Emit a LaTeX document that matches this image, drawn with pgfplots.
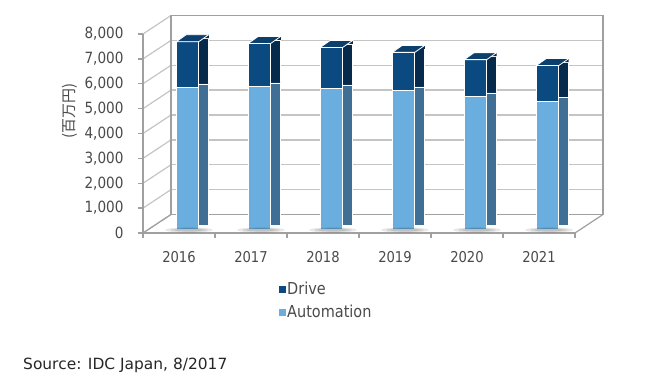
\documentclass[border=0pt]{standalone}
\usepackage{pgfplots}
\pgfplotsset{compat=1.18}
\usepackage{pgfplotstable}
\usepackage{fontspec}
\setmainfont{DejaVu Sans}
\newfontfamily\cond[FakeStretch=0.88]{DejaVu Sans}
\newfontfamily\jp{Noto Sans CJK JP}

\definecolor{autofront}{HTML}{6AAEDF}
\definecolor{autoside}{HTML}{3F6F95}
\definecolor{drivefront}{HTML}{0B4A80}
\definecolor{driveside}{HTML}{062A4C}
\definecolor{topface}{HTML}{0D3F6D}
\definecolor{gridc}{HTML}{C4C4C4}
\definecolor{axisgrey}{HTML}{A0A0A0}
\definecolor{textgrey}{HTML}{4A4A4A}

\pgfplotstableread{
x year auto drive
0 2016 5690 1840
1 2017 5730 1730
2 2018 5650 1650
3 2019 5570 1530
4 2020 5330 1480
5 2021 5130 1440
}\datatable

\pgfdeclareplotmark{topface}{%
  \pgfsetlinewidth{0.8bp}%
  \pgfsetstrokecolor{white}%
  \pgfsetfillcolor{driveside}%
  \pgfpathmoveto{\pgfpoint{24.75bp}{7.5bp}}%
  \pgfpathlineto{\pgfpoint{29.75bp}{7.5bp}}%
  \pgfpathlineto{\pgfpoint{29.75bp}{11bp}}%
  \pgfpathclose
  \pgfusepath{fill}%
  \pgfsetfillcolor{topface}%
  \pgfpathmoveto{\pgfpoint{-2.75bp}{4bp}}%
  \pgfpathlineto{\pgfpoint{19.75bp}{4bp}}%
  \pgfpathlineto{\pgfpoint{29.75bp}{11bp}}%
  \pgfpathlineto{\pgfpoint{7.25bp}{11bp}}%
  \pgfpathclose
  \pgfusepath{fill,stroke}%
}
\pgfdeclareplotmark{floorshadow}{%
  \pgfsetfillcolor{black}%
  \pgfsetfillopacity{0.09}%
  \pgfpathellipse{\pgfpoint{10bp}{3bp}}{\pgfpoint{24bp}{0bp}}{\pgfpoint{0bp}{2.6bp}}%
  \pgfusepath{fill}%
  \pgfpathellipse{\pgfpoint{10bp}{3bp}}{\pgfpoint{19bp}{0bp}}{\pgfpoint{0bp}{1.9bp}}%
  \pgfusepath{fill}%
  \pgfpathellipse{\pgfpoint{10bp}{3bp}}{\pgfpoint{15bp}{0bp}}{\pgfpoint{0bp}{1.3bp}}%
  \pgfusepath{fill}%
}

\begin{document}
\begin{tikzpicture}
\path[use as bounding box] (0bp,0bp) rectangle (652bp,385bp);
% back wall, left wall and floor (decoration)
\begin{scope}[x=1bp,y=1bp]
\foreach \k in {1,...,7}{
  \draw[gridc, line width=1.3bp] (171,{170.5+\k*24.875}) -- (603,{170.5+\k*24.875});
}
\foreach \k in {0,...,8}{
  \draw[gridc, line width=1.2bp] (143,{152+\k*24.875}) -- (171,{170.5+\k*24.875});
}
\draw[axisgrey, line width=1.3bp] (171,170.5) rectangle (603,369.5);
\draw[axisgrey, line width=1.2bp] (143,152) -- (171,170.5);
\draw[axisgrey, line width=1.2bp] (575,152) -- (603,170.5);
\end{scope}

\begin{axis}[
  at={(143bp,152bp)}, anchor=south west,
  scale only axis, width=432bp, height=199bp,
  xmin=-0.5, xmax=5.5, ymin=0, ymax=8000,
  clip=false,
  axis x line*=bottom, axis y line*=left,
  axis line style={-, draw=axisgrey, line width=1.3bp},
  tick style={draw=axisgrey, line width=1.3bp},
  tick align=outside,
  major tick length=5bp, minor tick length=5bp,
  major x tick style={draw=none},
  xtick={0,...,5},
  xticklabels={2016,2017,2018,2019,2020,2021},
  minor xtick={-0.5,0.5,...,5.5},
  ytick={0,1000,...,8000},
  /pgf/number format/1000 sep={,},
  /pgf/number format/assume math mode=true,
  xticklabel style={font=\cond\fontsize{15}{18}\selectfont, text=textgrey, yshift=-10bp},
  yticklabel style={font=\cond\fontsize{15.5}{18}\selectfont, text=textgrey, xshift=-11bp},
  ylabel={\jp (百万円)},
  ylabel style={at={(axis description cs:-0.169,0.613)}, anchor=center,
    font=\fontsize{15}{18}\selectfont, text=textgrey},
  legend cell align=left,
  legend style={at={(axis description cs:0.307,-0.225)}, anchor=north west,
    draw=none, fill=none, font=\cond\fontsize{16.5}{19}\selectfont,
    text=textgrey, row sep=5bp,
    /tikz/every even column/.append style={column sep=4bp}},
]
% floor shadows
\addplot[only marks, mark=floorshadow, forget plot]
  table[x=x, y expr=0] {\datatable};
% side faces
\addplot[ybar, bar width=10bp, bar shift=24.75bp, yshift=7.5bp, fill=driveside,
  draw=white, line width=0.8bp, forget plot]
  table[x=x, y expr=\thisrow{auto}+\thisrow{drive}] {\datatable};
\addplot[ybar, bar width=10bp, bar shift=24.75bp, yshift=7.5bp, fill=autoside,
  draw=white, line width=0.8bp, forget plot]
  table[x=x, y=auto] {\datatable};
% front faces
\addplot[ybar, bar width=22.5bp, bar shift=8.5bp, yshift=4bp, fill=drivefront,
  draw=white, line width=0.8bp, forget plot]
  table[x=x, y expr=\thisrow{auto}+\thisrow{drive}] {\datatable};
\addplot[ybar, bar width=22.5bp, bar shift=8.5bp, yshift=4bp, fill=autofront,
  draw=white, line width=0.8bp, forget plot]
  table[x=x, y=auto] {\datatable};
% top faces
\addplot[only marks, mark=topface, forget plot]
  table[x=x, y expr=\thisrow{auto}+\thisrow{drive}] {\datatable};

\addlegendimage{legend image code/.code={\fill[drivefront] (0bp,-3bp) rectangle (6bp,3bp);}}
\addlegendentry{Drive}
\addlegendimage{legend image code/.code={\fill[autofront] (0bp,-3bp) rectangle (6bp,3bp);}}
\addlegendentry{Automation}
\end{axis}

\node[anchor=west, inner sep=0pt, font=\fontsize{15.5}{18}\selectfont, text=black!85]
  at (23bp,20bp) {Source: IDC Japan, 8/2017};
\end{tikzpicture}
\end{document}
